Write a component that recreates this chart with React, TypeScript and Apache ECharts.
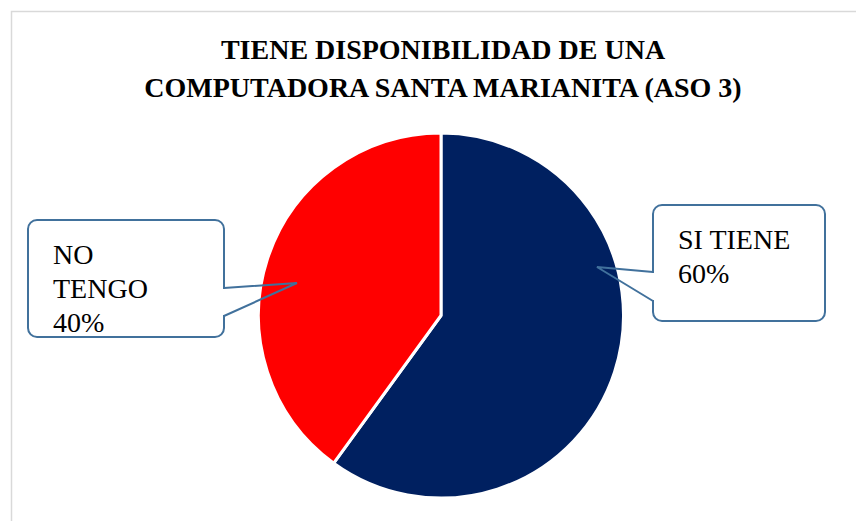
import React, { useEffect, useRef } from "react";
import * as echarts from "echarts";

const titleLines = ["TIENE DISPONIBILIDAD DE UNA", "COMPUTADORA SANTA MARIANITA (ASO 3)"];
const categories = ["SI TIENE", "NO TENGO"];
const values = [60, 40];
const colors = ["#002060", "#FF0000"];

const SERIF = "Liberation Serif";
const CALLOUT = "#41719C";

function callout(
  box: { x: number; y: number; width: number; height: number },
  base: [number, number][],
  tip: [number, number],
  side: "left" | "right"
) {
  const ex = side === "right" ? box.x + box.width : box.x;
  return [
    {
      type: "rect",
      z: 100,
      shape: { ...box, r: 9 },
      style: { fill: "none", stroke: CALLOUT, lineWidth: 2 },
    },
    {
      type: "rect",
      z: 101,
      shape: { x: ex - 2, y: base[0][1] + 1, width: 4, height: base[1][1] - base[0][1] - 2 },
      style: { fill: "#ffffff", stroke: "none" },
    },
    {
      type: "polyline",
      z: 102,
      shape: { points: [base[0], tip, base[1]] },
      style: { fill: "none", stroke: CALLOUT, lineWidth: 2 },
    },
  ];
}

export default function App() {
  const ref = useRef<HTMLDivElement>(null);
  useEffect(() => {
    if (!ref.current) return;
    const chart = echarts.init(ref.current, null, { renderer: "svg" });
    const labelPos = [
      { x: 678, y: 222 },
      { x: 53, y: 237 },
    ];
    chart.setOption({
      animation: false,
      textStyle: { fontFamily: SERIF },
      graphic: [
        {
          type: "rect",
          z: 0,
          shape: { x: 11.5, y: 11.5, width: 900, height: 600 },
          style: { fill: "none", stroke: "#d9d9d9", lineWidth: 1.5 },
        },
        {
          type: "text",
          x: 443,
          y: 30,
          style: {
            text: titleLines.join("\n"),
            align: "center",
            verticalAlign: "top",
            fontFamily: SERIF,
            fontWeight: "bold",
            fontSize: 28,
            lineHeight: 38,
            fill: "#000",
          },
        },
        ...callout({ x: 28, y: 220, width: 196, height: 117 }, [[224, 288], [224, 316]], [297, 283], "right"),
        ...callout({ x: 653, y: 205, width: 172, height: 116 }, [[653, 272], [653, 301]], [597, 267], "left"),
      ],
      series: [
        {
          type: "pie",
          center: [441, 315.5],
          radius: 182.5,
          startAngle: 90,
          clockwise: true,
          itemStyle: { borderColor: "#ffffff", borderWidth: 3 },
          emphasis: { disabled: true },
          label: {
            show: true,
            position: "outside",
            formatter: "{b}\n{d}%",
            fontFamily: SERIF,
            fontSize: 28,
            lineHeight: 34,
            color: "#000",
          },
          labelLine: { show: false },
          labelLayout: (p: any) => ({
            x: labelPos[p.dataIndex].x,
            y: labelPos[p.dataIndex].y,
            align: "left",
            verticalAlign: "top",
          }),
          data: categories.map((c, i) => ({
            name: c,
            value: values[i],
            itemStyle: { color: colors[i] },
            label: i === 1 ? { width: 120, overflow: "break" } : {},
          })),
        },
      ],
    });
    return () => chart.dispose();
  }, []);
  return (
    <>
      <style>{`#chart-root svg text, #chart-root svg tspan { font-family: 'Liberation Serif', 'Times New Roman', serif !important; }`}</style>
      <div
        id="chart-root"
        ref={ref}
        style={{
          position: "fixed",
          left: 0,
          top: 0,
          width: 856,
          height: 521,
          background: "#fff",
        }}
      />
    </>
  );
}
